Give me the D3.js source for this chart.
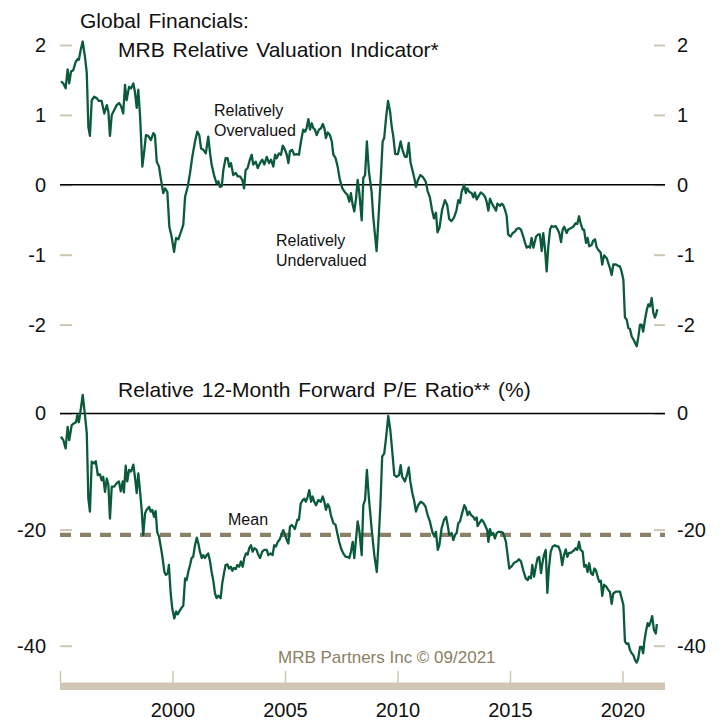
<!DOCTYPE html>
<html>
<head>
<meta charset="utf-8">
<style>
    body { margin: 0; background: #fff; }
    svg { display: block; font-family: "Liberation Sans", Arial, sans-serif; }
    .axis .domain { display: none; }
    .axis .tick line { stroke: #cfc7b4; stroke-width: 2; }
    .axis .tick text { font-size: 20px; fill: #111; }
    .x.axis .tick line { stroke-width: 1.5; }
    .title { font-size: 21px; fill: #111; word-spacing: 2px; }
    .note { font-size: 16px; fill: #111; }
</style>
</head>
<body>
<svg width="726" height="721"></svg>

<script src="https://d3js.org/d3.v7.min.js"></script>
<script>
// decimal year, value
const valuationIndicator = [[1995.04,1.48],[1995.15,1.45],[1995.25,1.38],[1995.34,1.65],[1995.41,1.45],[1995.49,1.62],[1995.59,1.64],[1995.70,1.76],[1995.79,1.80],[1995.84,1.79],[1995.92,1.93],[1996.01,2.05],[1996.11,1.83],[1996.19,1.60],[1996.26,0.83],[1996.33,0.70],[1996.41,1.21],[1996.52,1.26],[1996.63,1.24],[1996.73,1.20],[1996.85,1.20],[1996.97,1.02],[1997.08,1.14],[1997.15,1.05],[1997.22,0.70],[1997.30,1.00],[1997.41,1.07],[1997.52,1.14],[1997.62,1.17],[1997.71,1.13],[1997.81,1.02],[1997.89,1.43],[1997.96,1.21],[1998.07,1.40],[1998.16,1.38],[1998.26,1.45],[1998.33,1.33],[1998.41,1.10],[1998.48,1.36],[1998.56,0.98],[1998.66,0.26],[1998.75,0.50],[1998.82,0.71],[1998.92,0.70],[1999.04,0.64],[1999.15,0.74],[1999.22,0.71],[1999.30,0.33],[1999.40,0.26],[1999.49,0.07],[1999.59,-0.12],[1999.67,-0.05],[1999.77,-0.10],[1999.86,-0.60],[1999.96,-0.74],[2000.07,-0.96],[2000.16,-0.76],[2000.26,-0.78],[2000.38,-0.67],[2000.48,-0.57],[2000.56,-0.17],[2000.68,-0.02],[2000.78,0.17],[2000.88,0.40],[2001.00,0.62],[2001.10,0.76],[2001.19,0.71],[2001.27,0.52],[2001.37,0.50],[2001.48,0.45],[2001.59,0.69],[2001.67,0.45],[2001.74,0.29],[2001.86,0.12],[2001.96,0.02],[2002.04,0.05],[2002.11,-0.03],[2002.19,-0.02],[2002.26,0.21],[2002.36,0.38],[2002.45,0.38],[2002.52,0.26],[2002.60,0.31],[2002.70,0.14],[2002.81,0.17],[2002.90,0.12],[2003.00,0.12],[2003.10,0.07],[2003.18,-0.05],[2003.25,0.21],[2003.34,0.24],[2003.44,0.36],[2003.52,0.43],[2003.59,0.29],[2003.70,0.33],[2003.79,0.24],[2003.89,0.31],[2003.99,0.36],[2004.08,0.29],[2004.19,0.40],[2004.29,0.31],[2004.38,0.36],[2004.48,0.26],[2004.56,0.43],[2004.63,0.38],[2004.73,0.45],[2004.82,0.43],[2004.90,0.56],[2005.00,0.50],[2005.08,0.43],[2005.15,0.31],[2005.22,0.48],[2005.32,0.50],[2005.41,0.43],[2005.52,0.44],[2005.62,0.43],[2005.71,0.62],[2005.81,0.79],[2005.89,0.76],[2005.96,0.81],[2006.04,0.94],[2006.11,0.79],[2006.19,0.88],[2006.26,0.81],[2006.33,0.79],[2006.41,0.71],[2006.51,0.79],[2006.60,0.81],[2006.68,0.87],[2006.75,0.81],[2006.82,0.67],[2006.90,0.75],[2007.00,0.71],[2007.08,0.62],[2007.15,0.43],[2007.25,0.38],[2007.34,0.26],[2007.44,0.07],[2007.55,-0.05],[2007.67,-0.11],[2007.77,-0.14],[2007.86,-0.24],[2007.93,-0.12],[2008.01,-0.29],[2008.08,-0.38],[2008.16,-0.19],[2008.23,0.07],[2008.30,-0.10],[2008.41,-0.51],[2008.48,0.10],[2008.56,0.14],[2008.64,0.62],[2008.73,0.19],[2008.85,-0.10],[2008.92,-0.45],[2009.07,-0.95],[2009.16,-0.45],[2009.27,0.17],[2009.34,0.62],[2009.41,0.67],[2009.49,0.95],[2009.58,1.20],[2009.67,1.05],[2009.74,0.84],[2009.81,0.70],[2009.90,0.44],[2010.02,0.44],[2010.14,0.62],[2010.22,0.50],[2010.33,0.40],[2010.41,0.40],[2010.50,0.60],[2010.58,0.32],[2010.67,0.20],[2010.76,0.08],[2010.82,-0.03],[2010.91,0.07],[2011.02,0.14],[2011.13,0.11],[2011.25,0.05],[2011.34,-0.09],[2011.44,-0.18],[2011.53,-0.35],[2011.62,-0.48],[2011.71,-0.40],[2011.78,-0.68],[2011.87,-0.61],[2011.98,-0.36],[2012.11,-0.22],[2012.21,-0.29],[2012.30,-0.49],[2012.40,-0.52],[2012.51,-0.47],[2012.62,-0.37],[2012.70,-0.22],[2012.78,-0.26],[2012.85,-0.10],[2012.96,0.00],[2013.04,-0.12],[2013.10,-0.05],[2013.19,-0.10],[2013.30,-0.12],[2013.37,-0.18],[2013.44,-0.11],[2013.52,-0.21],[2013.59,-0.17],[2013.70,-0.11],[2013.79,-0.13],[2013.89,-0.17],[2013.96,-0.24],[2014.04,-0.37],[2014.11,-0.20],[2014.19,-0.26],[2014.29,-0.32],[2014.38,-0.37],[2014.44,-0.27],[2014.56,-0.30],[2014.63,-0.27],[2014.70,-0.29],[2014.78,-0.36],[2014.85,-0.44],[2014.92,-0.71],[2015.03,-0.74],[2015.12,-0.69],[2015.22,-0.67],[2015.30,-0.63],[2015.41,-0.62],[2015.49,-0.64],[2015.59,-0.74],[2015.67,-0.83],[2015.74,-0.90],[2015.81,-0.88],[2015.89,-0.90],[2015.96,-0.76],[2016.04,-0.90],[2016.16,-0.74],[2016.26,-0.71],[2016.33,-0.71],[2016.41,-0.95],[2016.48,-0.69],[2016.56,-0.93],[2016.63,-1.24],[2016.70,-0.90],[2016.78,-0.64],[2016.85,-0.59],[2016.92,-0.60],[2017.03,-0.59],[2017.10,-0.63],[2017.19,-0.69],[2017.27,-0.82],[2017.34,-0.64],[2017.41,-0.60],[2017.52,-0.69],[2017.59,-0.64],[2017.70,-0.62],[2017.81,-0.60],[2017.92,-0.55],[2017.99,-0.56],[2018.07,-0.45],[2018.14,-0.55],[2018.23,-0.64],[2018.29,-0.64],[2018.38,-0.83],[2018.45,-0.76],[2018.52,-0.88],[2018.63,-0.86],[2018.70,-0.80],[2018.78,-0.78],[2018.85,-0.89],[2018.92,-0.93],[2019.03,-0.97],[2019.10,-1.14],[2019.18,-1.01],[2019.30,-1.05],[2019.37,-1.12],[2019.44,-1.19],[2019.52,-1.29],[2019.59,-1.14],[2019.71,-1.14],[2019.81,-1.16],[2019.89,-1.17],[2019.96,-1.24],[2020.04,-1.36],[2020.11,-1.90],[2020.19,-1.93],[2020.26,-2.05],[2020.33,-2.06],[2020.41,-2.17],[2020.48,-2.21],[2020.56,-2.26],[2020.63,-2.31],[2020.70,-2.19],[2020.78,-2.00],[2020.85,-2.00],[2020.92,-2.10],[2021.00,-1.93],[2021.08,-1.79],[2021.15,-1.71],[2021.22,-1.74],[2021.30,-1.62],[2021.37,-1.83],[2021.44,-1.90],[2021.49,-1.86],[2021.55,-1.78]];

const forwardPE = [[1995.04,-4.0],[1995.15,-4.6],[1995.25,-6.0],[1995.34,-2.3],[1995.41,-4.6],[1995.52,-2.0],[1995.62,-1.7],[1995.71,-1.5],[1995.77,-0.3],[1995.84,-1.5],[1995.93,0.9],[1996.01,3.2],[1996.11,-0.3],[1996.19,-3.4],[1996.26,-14.6],[1996.33,-16.9],[1996.41,-8.3],[1996.51,-8.6],[1996.59,-8.2],[1996.68,-10.6],[1996.78,-10.5],[1996.85,-11.5],[1996.92,-10.9],[1997.00,-13.5],[1997.08,-11.2],[1997.15,-12.3],[1997.22,-18.1],[1997.30,-12.6],[1997.41,-12.6],[1997.52,-12.0],[1997.62,-11.7],[1997.70,-13.4],[1997.79,-11.7],[1997.84,-13.6],[1997.92,-9.0],[1997.99,-11.7],[1998.07,-9.7],[1998.16,-10.0],[1998.26,-8.8],[1998.33,-10.9],[1998.41,-13.7],[1998.48,-10.3],[1998.56,-13.5],[1998.63,-16.6],[1998.70,-20.9],[1998.78,-17.2],[1998.85,-16.6],[1998.96,-16.1],[1999.03,-16.9],[1999.10,-16.6],[1999.18,-17.8],[1999.25,-16.8],[1999.32,-20.4],[1999.40,-21.2],[1999.49,-23.2],[1999.56,-24.9],[1999.64,-27.3],[1999.71,-27.8],[1999.79,-27.5],[1999.84,-26.1],[1999.92,-31.0],[1999.99,-33.6],[2000.08,-35.3],[2000.16,-34.1],[2000.23,-34.6],[2000.30,-34.1],[2000.38,-33.6],[2000.48,-33.1],[2000.56,-28.4],[2000.63,-28.7],[2000.70,-27.3],[2000.78,-26.1],[2000.85,-24.9],[2000.92,-24.7],[2001.00,-22.7],[2001.08,-21.4],[2001.15,-22.4],[2001.22,-23.8],[2001.30,-24.9],[2001.37,-24.4],[2001.44,-24.9],[2001.52,-24.4],[2001.59,-24.1],[2001.67,-25.5],[2001.74,-27.3],[2001.81,-28.7],[2001.89,-31.0],[2001.96,-31.8],[2002.04,-31.4],[2002.14,-31.8],[2002.21,-29.3],[2002.29,-27.5],[2002.36,-26.1],[2002.44,-26.0],[2002.51,-26.7],[2002.59,-26.4],[2002.66,-27.1],[2002.73,-26.6],[2002.81,-26.8],[2002.88,-26.1],[2002.96,-26.4],[2003.04,-25.5],[2003.12,-26.4],[2003.19,-24.9],[2003.27,-24.1],[2003.34,-24.3],[2003.41,-23.2],[2003.49,-22.7],[2003.56,-23.8],[2003.64,-23.2],[2003.74,-23.5],[2003.79,-24.1],[2003.89,-24.9],[2003.99,-23.8],[2004.08,-23.5],[2004.19,-23.5],[2004.26,-24.4],[2004.36,-24.1],[2004.45,-24.4],[2004.52,-22.7],[2004.60,-22.9],[2004.68,-22.1],[2004.75,-21.8],[2004.82,-21.2],[2004.92,-20.1],[2005.00,-20.9],[2005.08,-21.8],[2005.15,-22.4],[2005.22,-19.5],[2005.30,-19.2],[2005.37,-19.5],[2005.44,-19.9],[2005.55,-18.3],[2005.62,-18.3],[2005.70,-15.5],[2005.79,-14.9],[2005.86,-14.7],[2005.93,-15.2],[2006.01,-14.3],[2006.08,-13.2],[2006.16,-15.2],[2006.23,-14.3],[2006.30,-15.2],[2006.38,-15.8],[2006.48,-14.9],[2006.59,-15.2],[2006.68,-14.3],[2006.75,-15.2],[2006.82,-16.6],[2006.90,-15.6],[2006.97,-16.1],[2007.04,-17.5],[2007.15,-18.9],[2007.25,-19.2],[2007.34,-20.9],[2007.41,-22.1],[2007.49,-23.2],[2007.59,-24.1],[2007.70,-24.7],[2007.79,-24.7],[2007.86,-24.9],[2007.93,-23.8],[2008.01,-22.1],[2008.08,-24.9],[2008.16,-21.5],[2008.23,-18.6],[2008.30,-20.1],[2008.41,-24.4],[2008.48,-15.8],[2008.56,-14.9],[2008.64,-9.7],[2008.73,-14.6],[2008.85,-19.8],[2008.97,-24.4],[2009.08,-27.3],[2009.15,-22.7],[2009.24,-15.8],[2009.32,-7.4],[2009.41,-6.9],[2009.49,-4.3],[2009.59,-0.4],[2009.68,-2.8],[2009.77,-6.6],[2009.86,-10.6],[2009.96,-10.9],[2010.07,-10.6],[2010.14,-8.9],[2010.21,-10.9],[2010.33,-11.7],[2010.42,-10.6],[2010.50,-9.3],[2010.57,-11.7],[2010.66,-13.7],[2010.75,-15.2],[2010.82,-16.9],[2010.92,-15.8],[2011.03,-15.2],[2011.15,-15.5],[2011.25,-16.1],[2011.34,-17.5],[2011.44,-18.6],[2011.55,-20.4],[2011.64,-21.2],[2011.71,-20.4],[2011.79,-23.5],[2011.86,-22.7],[2011.96,-19.8],[2012.07,-18.3],[2012.16,-17.8],[2012.23,-19.2],[2012.30,-20.9],[2012.41,-20.6],[2012.48,-21.8],[2012.56,-20.9],[2012.63,-20.6],[2012.70,-18.9],[2012.78,-18.6],[2012.85,-17.5],[2012.97,-15.8],[2013.04,-16.3],[2013.12,-17.5],[2013.19,-16.9],[2013.27,-17.5],[2013.37,-17.8],[2013.44,-18.3],[2013.52,-17.9],[2013.56,-19.4],[2013.64,-18.9],[2013.74,-18.3],[2013.81,-18.6],[2013.89,-19.2],[2013.99,-20.1],[2014.04,-22.1],[2014.11,-19.9],[2014.19,-20.9],[2014.26,-20.6],[2014.33,-21.5],[2014.41,-20.6],[2014.48,-20.4],[2014.59,-20.4],[2014.68,-20.5],[2014.75,-21.2],[2014.82,-22.1],[2014.92,-25.2],[2014.97,-26.7],[2015.08,-26.3],[2015.19,-25.7],[2015.30,-25.5],[2015.40,-25.1],[2015.49,-25.5],[2015.59,-27.0],[2015.70,-28.4],[2015.79,-28.7],[2015.84,-28.1],[2015.93,-28.4],[2015.99,-26.1],[2016.07,-28.1],[2016.16,-26.1],[2016.23,-24.9],[2016.30,-24.7],[2016.38,-27.5],[2016.44,-25.8],[2016.51,-24.4],[2016.59,-23.5],[2016.66,-30.9],[2016.73,-26.7],[2016.81,-23.8],[2016.90,-22.9],[2017.00,-22.7],[2017.08,-22.9],[2017.15,-22.9],[2017.24,-23.8],[2017.32,-26.1],[2017.40,-24.4],[2017.48,-23.4],[2017.55,-24.7],[2017.62,-24.0],[2017.70,-24.0],[2017.77,-23.8],[2017.84,-23.6],[2017.92,-23.2],[2017.99,-23.5],[2018.07,-22.1],[2018.14,-23.5],[2018.23,-23.8],[2018.30,-26.4],[2018.38,-26.1],[2018.45,-27.3],[2018.52,-25.8],[2018.60,-27.5],[2018.68,-27.8],[2018.75,-26.7],[2018.82,-27.0],[2018.90,-28.2],[2018.97,-29.0],[2019.04,-28.8],[2019.10,-31.4],[2019.18,-29.5],[2019.27,-29.8],[2019.37,-30.4],[2019.44,-30.7],[2019.52,-32.8],[2019.59,-31.0],[2019.70,-30.7],[2019.81,-30.7],[2019.89,-30.7],[2019.96,-31.8],[2020.04,-33.0],[2020.11,-39.3],[2020.19,-39.7],[2020.26,-39.6],[2020.33,-40.7],[2020.41,-41.3],[2020.48,-41.6],[2020.56,-42.5],[2020.63,-42.9],[2020.70,-42.2],[2020.78,-40.2],[2020.85,-40.2],[2020.92,-41.3],[2020.97,-39.3],[2021.04,-37.6],[2021.12,-36.1],[2021.18,-36.6],[2021.25,-35.9],[2021.32,-34.9],[2021.40,-37.3],[2021.48,-37.9],[2021.53,-36.3]];

const meanPE = -20.9;
const topTicks = [-2, -1, 0, 1, 2];
const bottomTicks = [-40, -20, 0];
const yearTicks = [1995, 2000, 2005, 2010, 2015, 2020];

const svg = d3.select("svg");
const green = "#0b5b3b";
const tan = "#cfc7b4";
const plainNumber = d => String(d);

let x = d3.scaleLinear().domain([1995, 2021.89]).range([60, 665]);
let yTop = d3.scaleLinear().domain([-2, 2]).range([324.6, 45]);
let yBot = d3.scaleLinear().domain([-40, 0]).range([645.7, 413.5]);

// axes
svg.append("g").attr("class", "y axis").attr("transform", "translate(60,0)")
    .call(d3.axisLeft(yTop).tickValues(topTicks).tickFormat(plainNumber).tickSize(-12).tickPadding(14));
svg.append("g").attr("class", "y axis").attr("transform", "translate(665,0)")
    .call(d3.axisRight(yTop).tickValues(topTicks).tickFormat(plainNumber).tickSize(-11).tickPadding(12));
svg.append("g").attr("class", "y axis").attr("transform", "translate(60,0)")
    .call(d3.axisLeft(yBot).tickValues(bottomTicks).tickFormat(plainNumber).tickSize(-12).tickPadding(14));
svg.append("g").attr("class", "y axis").attr("transform", "translate(665,0)")
    .call(d3.axisRight(yBot).tickValues(bottomTicks).tickFormat(plainNumber).tickSize(-11).tickPadding(12));

// x axis: tan bar with ticks standing on it
svg.append("line")
    .attr("x1", x.range()[0]).attr("x2", x.range()[1])
    .attr("y1", 686.3).attr("y2", 686.3)
    .style("stroke", tan).style("stroke-width", 7.5);

svg.append("g").attr("class", "x axis").attr("transform", "translate(0,683)")
    .call(d3.axisBottom(x).tickValues(yearTicks).tickSize(-12).tickPadding(20)
        .tickFormat(d => d === 1995 ? "" : String(d)));

// zero lines and mean
svg.append("line")
    .attr("x1", x.range()[0]).attr("x2", x.range()[1])
    .attr("y1", yTop(0)).attr("y2", yTop(0))
    .style("stroke", "#000").style("stroke-width", 1.5);
svg.append("line")
    .attr("x1", x.range()[0]).attr("x2", x.range()[1])
    .attr("y1", yBot(0)).attr("y2", yBot(0))
    .style("stroke", "#000").style("stroke-width", 1.5);
svg.append("line")
    .attr("x1", x.range()[0]).attr("x2", x.range()[1])
    .attr("y1", yBot(meanPE)).attr("y2", yBot(meanPE))
    .style("stroke", "#8c8168").style("stroke-width", 4.2)
    .style("stroke-dasharray", "11,9");

// series
let lineTop = d3.line().x(d => x(d[0])).y(d => yTop(d[1]));
let lineBot = d3.line().x(d => x(d[0])).y(d => yBot(d[1]));

svg.append("path").attr("d", lineTop(valuationIndicator))
    .style("fill", "none").style("stroke", green).style("stroke-width", 2.3)
    .style("stroke-linejoin", "round");
svg.append("path").attr("d", lineBot(forwardPE))
    .style("fill", "none").style("stroke", green).style("stroke-width", 2.3)
    .style("stroke-linejoin", "round");

// titles and notes
svg.append("text").attr("class", "title").attr("x", 80).attr("y", 28).text("Global Financials:");
svg.append("text").attr("class", "title").attr("x", 118).attr("y", 57).text("MRB Relative Valuation Indicator*");
svg.append("text").attr("class", "title").attr("x", 118).attr("y", 397).text("Relative 12-Month Forward P/E Ratio** (%)");

svg.append("text").attr("class", "note").attr("x", 214).attr("y", 116).text("Relatively");
svg.append("text").attr("class", "note").attr("x", 214).attr("y", 135.5).text("Overvalued");
svg.append("text").attr("class", "note").attr("x", 276).attr("y", 246).text("Relatively");
svg.append("text").attr("class", "note").attr("x", 276).attr("y", 266).text("Undervalued");
svg.append("text").attr("class", "note").attr("x", 228).attr("y", 525).text("Mean");

svg.append("text").attr("x", 278).attr("y", 663)
    .style("font-size", "17px").style("fill", "#8c7f63")
    .text("MRB Partners Inc © 09/2021");
</script>
</body>
</html>
